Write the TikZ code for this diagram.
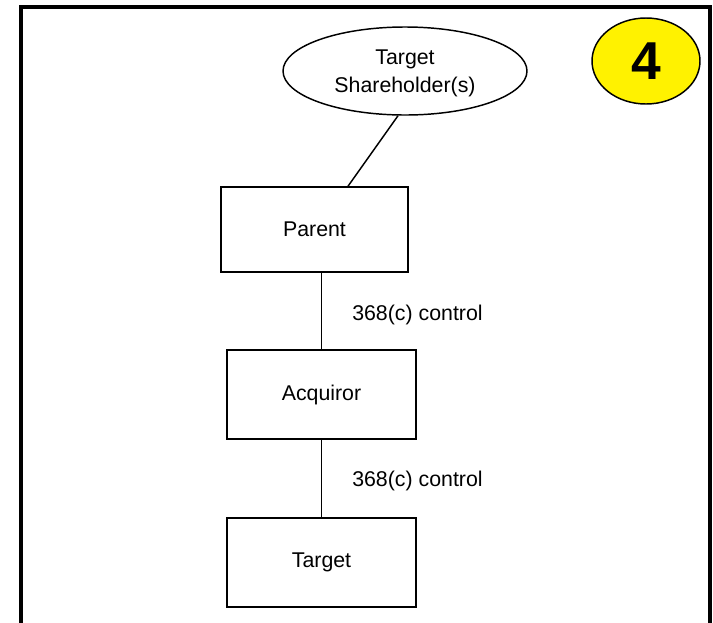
\documentclass[tikz,border=0pt]{standalone}
\usepackage{fontspec}
\setmainfont{Liberation Sans}
\usetikzlibrary{shapes.geometric}
\begin{document}
\begin{tikzpicture}[x=0.75pt,y=-0.75pt,
  lbl/.style={font=\fontsize{16}{20}\selectfont},
  entbox/.style={draw,line width=1.1pt,inner sep=0pt,font=\fontsize{16}{20}\selectfont},
  conn/.style={line width=1.1pt}]
\useasboundingbox (0,0) rectangle (713,622);
\fill[white] (0,0) rectangle (713,622);
\draw[line width=2.3pt] (21,623) -- (21,7) -- (710,7) -- (710,623);
\node[draw,ellipse,line width=1.1pt,minimum width=183pt,minimum height=66pt,inner sep=0pt] (SH) at (405,71) {};
\node[lbl,align=center,inner sep=0pt] (SHtext) at (405,73.5) {Target\\[0.5pt]Shareholder(s)};
\node[draw,ellipse,line width=1.1pt,fill=yellow,minimum width=81pt,minimum height=64.5pt,inner sep=0pt,
      font=\fontsize{40}{44}\selectfont\bfseries] (num) at (646,61) {4};
\node[entbox,minimum width=140.25pt,minimum height=63.75pt] (Parent) at (314.5,229.5) {Parent};
\node[entbox,minimum width=141.75pt,minimum height=66.75pt] (Acq) at (321.5,394.5) {Acquiror};
\node[entbox,minimum width=141.75pt,minimum height=66.75pt] (Tgt) at (321.5,562.5) {Target};
\draw[conn] ([xshift=-5.25pt]SH.south) -- ([xshift=25.1pt]Parent.north);
\draw[conn] (Acq.north |- Parent.south) -- (Acq.north);
\draw[conn] (Acq.south) -- (Tgt.north);
\node[lbl,anchor=west,inner sep=0pt] (l1) at (352,314.5) {368(c) control};
\node[lbl,anchor=west,inner sep=0pt] (l2) at (352,480.5) {368(c) control};
\end{tikzpicture}
\end{document}
